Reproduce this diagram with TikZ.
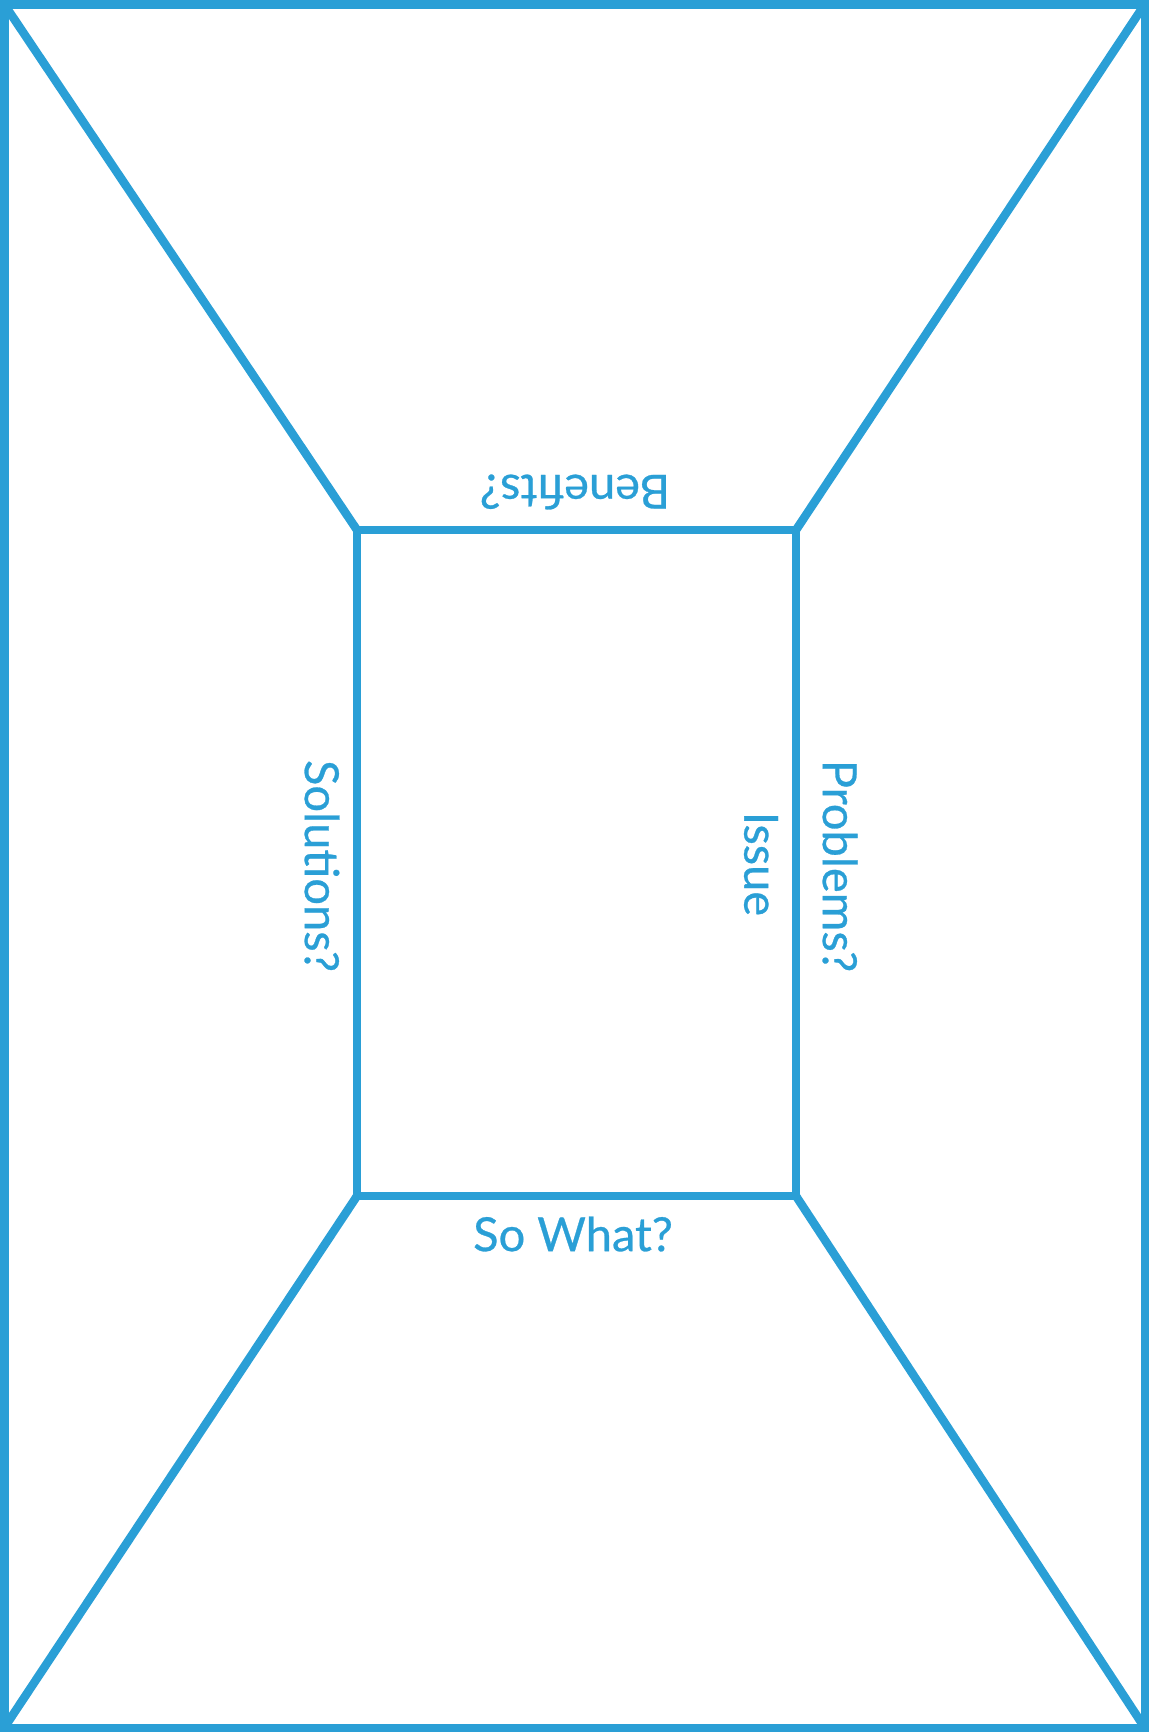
\documentclass[tikz,border=0pt]{standalone}
\usepackage{fontspec}
\setmainfont{Lato}
\newfontfamily\lblfont{Lato}[FakeBold=0.6]
\definecolor{sky}{RGB}{42,159,214}
\begin{document}
\begin{tikzpicture}[x=1pt,y=-1pt,line width=8.5pt,
  lbl/.style={text=sky,font=\lblfont\fontsize{47}{50}\selectfont,inner sep=0pt}]
\useasboundingbox (0,0) rectangle (1149,1732);
% outer frame
\coordinate (o1) at (4.25,4.25);
\coordinate (o2) at (1144.75,4.25);
\coordinate (o3) at (1144.75,1727.75);
\coordinate (o4) at (4.25,1727.75);
% inner frame
\coordinate (i1) at (357,530);
\coordinate (i2) at (796,530);
\coordinate (i3) at (796,1196);
\coordinate (i4) at (357,1196);
\draw[sky] (o1) -- (o2) -- (o3) -- (o4) -- cycle;
\draw[sky] (i1) -- (i2) -- (i3) -- (i4) -- cycle;
\draw[sky] (o1) -- (i1);
\draw[sky] (o2) -- (i2);
\draw[sky] (o3) -- (i3);
\draw[sky] (o4) -- (i4);
\node[lbl,rotate=180] (ben) at (575,492) {Benefits?};
\node[lbl,rotate=-90] (sol) at (322,866) {Solutions?};
\node[lbl,rotate=-90] (prob) at (840,866) {Problems?};
\node[lbl,rotate=-90] (iss) at (761,864) {Issue};
\node[lbl] (sowhat) at (573,1234) {So What?};
\end{tikzpicture}
\end{document}
